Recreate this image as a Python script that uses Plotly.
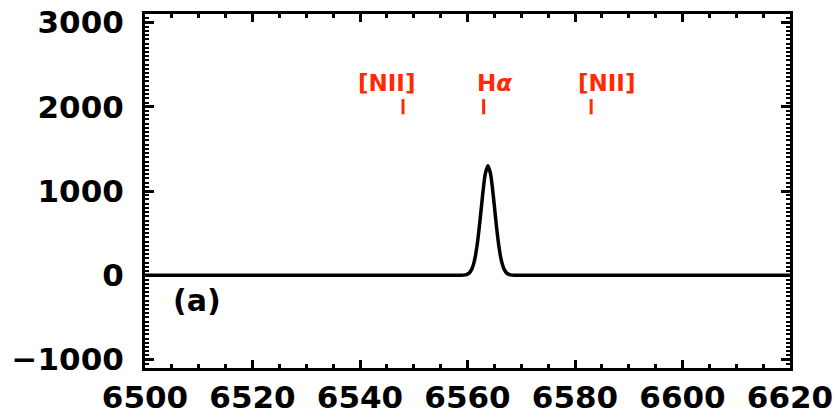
import plotly.graph_objects as go

# Spectrum around H-alpha: wavelength (Angstrom) and flux
wavelength = [6500.0, 6555.0, 6558.8, 6559.3, 6559.8, 6560.3, 6560.8, 6561.3, 6561.8,
              6562.3, 6562.8, 6563.3, 6563.8, 6564.3, 6564.8, 6565.3, 6565.8,
              6566.3, 6566.8, 6567.3, 6567.8, 6568.3, 6568.8, 6572.0, 6620.0]
flux = [0, 0, 0, 2, 8, 26, 73, 176, 361,
        633, 944, 1200, 1300, 1200, 944, 633, 361,
        176, 73, 26, 8, 2, 0, 0, 0]

# Emission-line markers
line_names = ["[NII]", "H<i>α</i>", "[NII]"]
line_waves = [6548, 6563, 6583]
label_x = [6545.0, 6565.0, 6585.8]

panel_label = "(a)"

x_ticks = [6500, 6520, 6540, 6560, 6580, 6600, 6620]
y_ticks = [-1000, 0, 1000, 2000, 3000]
y_ticktext = ["\u22121000", "0", "1000", "2000", "3000"]

RED = "#ff2a00"
FONT = "DejaVu Sans"

fig = go.Figure()
fig.add_trace(go.Scatter(x=wavelength, y=flux, mode="lines",
                         line=dict(color="black", width=3.5, shape="spline", smoothing=0.6),
                         hoverinfo="skip", showlegend=False))

for w in line_waves:
    fig.add_shape(type="line", xref="x", yref="y", x0=w, x1=w, y0=1910, y1=2090,
                  line=dict(color=RED, width=3))

for name, lx in zip(line_names, label_x):
    fig.add_annotation(x=lx, y=2105, xref="x", yref="y", text="<b>" + name + "</b>",
                       showarrow=False, xanchor="center", yanchor="bottom",
                       font=dict(family=FONT, size=23, color=RED))

fig.add_annotation(x=6509.7, y=-295, xref="x", yref="y", text="<b>" + panel_label + "</b>",
                   showarrow=False, xanchor="center", yanchor="middle",
                   font=dict(family=FONT, size=30, color="black"))

axis_common = dict(showgrid=False, zeroline=False, showline=True, linecolor="black",
                   linewidth=3, mirror="ticks", ticks="inside", tickcolor="black",
                   tickfont=dict(family=FONT, size=31, color="black", weight="bold"),
                   automargin=False)

fig.update_xaxes(range=[6500, 6620], tickvals=x_ticks, ticklen=8, tickwidth=2.5,
                 ticklabelstandoff=0,
                 minor=dict(dtick=5, tick0=6500, ticklen=4, tickwidth=2.5, ticks="inside",
                            tickcolor="black"),
                 **axis_common)
fig.update_yaxes(range=[-1100, 3100], tickvals=y_ticks, ticktext=y_ticktext,
                 ticklen=9, tickwidth=2.5, ticklabelstandoff=12,
                 minor=dict(dtick=50, tick0=0, ticklen=4, tickwidth=2, ticks="inside",
                            tickcolor="black"),
                 **axis_common)

fig.update_layout(width=837, height=419, plot_bgcolor="white", paper_bgcolor="white",
                  margin=dict(l=145, r=47, t=14, b=51, autoexpand=False))

fig.write_html("out.html")
